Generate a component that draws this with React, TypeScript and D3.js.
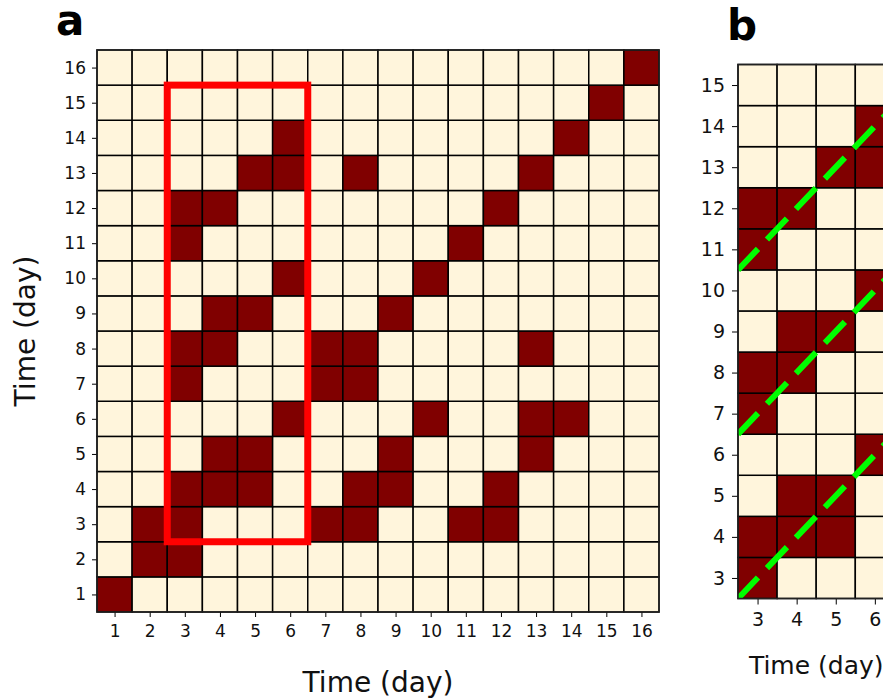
import React, { useEffect, useRef } from 'react';
import * as d3 from 'd3';

// days on both axes of panel a
const days = d3.range(1, 17);

// contact matrix, one string per row, top row = day 16, bottom row = day 1
const matrixRows = [
  '0000000000000001',
  '0000000000000010',
  '0000010000000100',
  '0000110100001000',
  '0011000000010000',
  '0010000000100000',
  '0000010001000000',
  '0001100010000000',
  '0011001100001000',
  '0010001100000000',
  '0000010001001100',
  '0001100010001000',
  '0011100110010000',
  '0110001100110000',
  '0110000000000000',
  '1000000000000000',
];

// highlighted window in panel a (day ranges)
const boxX = [3, 6];
const boxY = [3, 15];

// panel b zoom range and diagonal offsets
const zoomX = [3, 6];
const zoomY = [3, 15];
const diagonalOffsets = [0, 4, 8];

const cellLight = '#fff5dc';
const cellDark = '#800000';
const font = 'DejaVu Sans, sans-serif';

const isActive = (x: number, y: number) => matrixRows[16 - y][x - 1] === '1';

export default function App() {
  const svgRef = useRef<SVGSVGElement>(null);

  useEffect(() => {
    const svg = d3.select(svgRef.current);
    svg.selectAll('*').remove();

    // ---------- panel a ----------
    const a = { left: 97, right: 659, top: 50, bottom: 612 };
    const xA = d3.scaleLinear().domain([0.5, 16.5]).range([a.left, a.right]);
    const yA = d3.scaleLinear().domain([0.5, 16.5]).range([a.bottom, a.top]);

    const cellsA = days.flatMap((y) => days.map((x) => ({ x, y, on: isActive(x, y) })));
    const gA = svg.append('g');
    gA.selectAll('rect.cell')
      .data(cellsA)
      .enter()
      .append('rect')
      .attr('x', (d) => xA(d.x - 0.5))
      .attr('y', (d) => yA(d.y + 0.5))
      .attr('width', xA(1.5) - xA(0.5))
      .attr('height', yA(0.5) - yA(1.5))
      .attr('fill', (d) => (d.on ? cellDark : cellLight))
      .attr('stroke', '#000')
      .attr('stroke-width', 1.5);

    gA.append('g')
      .attr('transform', `translate(0,${a.bottom})`)
      .call(d3.axisBottom(xA).tickValues(days).tickSize(5).tickPadding(8).tickFormat(d3.format('d')))
      .call((g) => g.select('.domain').remove())
      .call((g) => g.selectAll('text').attr('font-size', 17).attr('font-family', font).attr('fill', '#111'));

    gA.append('g')
      .attr('transform', `translate(${a.left},0)`)
      .call(d3.axisLeft(yA).tickValues(days).tickSize(5).tickPadding(6).tickFormat(d3.format('d')))
      .call((g) => g.select('.domain').remove())
      .call((g) => g.selectAll('text').attr('font-size', 17).attr('font-family', font).attr('fill', '#111'));

    gA.append('rect')
      .attr('x', a.left).attr('y', a.top)
      .attr('width', a.right - a.left).attr('height', a.bottom - a.top)
      .attr('fill', 'none').attr('stroke', '#222').attr('stroke-width', 1.5);

    gA.append('rect')
      .attr('x', xA(boxX[0] - 0.5))
      .attr('y', yA(boxY[1] + 0.5))
      .attr('width', xA(boxX[1] + 0.5) - xA(boxX[0] - 0.5))
      .attr('height', yA(boxY[0] - 0.5) - yA(boxY[1] + 0.5))
      .attr('fill', 'none')
      .attr('stroke', '#ff0000')
      .attr('stroke-width', 7);

    gA.append('text')
      .attr('x', (a.left + a.right) / 2).attr('y', 692)
      .attr('text-anchor', 'middle')
      .attr('font-size', 28).attr('font-family', font).attr('fill', '#111')
      .text('Time (day)');

    gA.append('text')
      .attr('transform', `translate(35,${(a.top + a.bottom) / 2}) rotate(-90)`)
      .attr('text-anchor', 'middle')
      .attr('font-size', 28).attr('font-family', font).attr('fill', '#111')
      .text('Time (day)');

    gA.append('text')
      .attr('x', 56).attr('y', 35)
      .attr('font-size', 42).attr('font-weight', 'bold').attr('font-family', font)
      .text('a');

    // ---------- panel b ----------
    const b = { left: 738, right: 894.4, top: 64.5, bottom: 598.5 };
    const xB = d3.scaleLinear().domain([zoomX[0] - 0.5, zoomX[1] + 0.5]).range([b.left, b.right]);
    const yB = d3.scaleLinear().domain([zoomY[0] - 0.5, zoomY[1] + 0.5]).range([b.bottom, b.top]);
    const xDays = d3.range(zoomX[0], zoomX[1] + 1);
    const yDays = d3.range(zoomY[0], zoomY[1] + 1);

    svg.append('defs').append('clipPath').attr('id', 'clipB')
      .append('rect')
      .attr('x', b.left).attr('y', b.top)
      .attr('width', b.right - b.left).attr('height', b.bottom - b.top);

    const gB = svg.append('g');
    const cellsB = yDays.flatMap((y) => xDays.map((x) => ({ x, y, on: isActive(x, y) })));
    gB.selectAll('rect.cell')
      .data(cellsB)
      .enter()
      .append('rect')
      .attr('x', (d) => xB(d.x - 0.5))
      .attr('y', (d) => yB(d.y + 0.5))
      .attr('width', xB(zoomX[0] + 0.5) - xB(zoomX[0] - 0.5))
      .attr('height', yB(zoomY[0] - 0.5) - yB(zoomY[0] + 0.5))
      .attr('fill', (d) => (d.on ? cellDark : cellLight))
      .attr('stroke', '#000')
      .attr('stroke-width', 1.5);

    const line = d3.line<[number, number]>().x((d) => xB(d[0])).y((d) => yB(d[1]));
    gB.append('g')
      .attr('clip-path', 'url(#clipB)')
      .selectAll('path')
      .data(diagonalOffsets)
      .enter()
      .append('path')
      .attr('d', (k) => line([[zoomX[0] - 0.5, zoomX[0] - 0.5 + k], [zoomX[1] + 0.5, zoomX[1] + 0.5 + k]]))
      .attr('fill', 'none')
      .attr('stroke', '#00ff00')
      .attr('stroke-width', 6)
      .attr('stroke-dasharray', '29 13');

    gB.append('g')
      .attr('transform', `translate(0,${b.bottom})`)
      .call(d3.axisBottom(xB).tickValues(xDays).tickSize(6).tickPadding(8).tickFormat(d3.format('d')))
      .call((g) => g.select('.domain').remove())
      .call((g) => g.selectAll('text').attr('font-size', 19).attr('font-family', font).attr('fill', '#111'));

    gB.append('g')
      .attr('transform', `translate(${b.left},0)`)
      .call(d3.axisLeft(yB).tickValues(yDays).tickSize(6).tickPadding(7).tickFormat(d3.format('d')))
      .call((g) => g.select('.domain').remove())
      .call((g) => g.selectAll('text').attr('font-size', 19).attr('font-family', font).attr('fill', '#111'));

    gB.append('rect')
      .attr('x', b.left).attr('y', b.top)
      .attr('width', b.right - b.left).attr('height', b.bottom - b.top)
      .attr('fill', 'none').attr('stroke', '#222').attr('stroke-width', 1.5);

    gB.append('text')
      .attr('x', (b.left + b.right) / 2).attr('y', 674)
      .attr('text-anchor', 'middle')
      .attr('font-size', 25).attr('font-family', font).attr('fill', '#111')
      .text('Time (day)');

    gB.append('text')
      .attr('x', 727).attr('y', 40)
      .attr('font-size', 42).attr('font-weight', 'bold').attr('font-family', font)
      .text('b');
  }, []);

  return (
    <svg
      ref={svgRef}
      width={883}
      height={698}
      style={{ position: 'absolute', left: 0, top: 0, background: '#fff' }}
    />
  );
}
